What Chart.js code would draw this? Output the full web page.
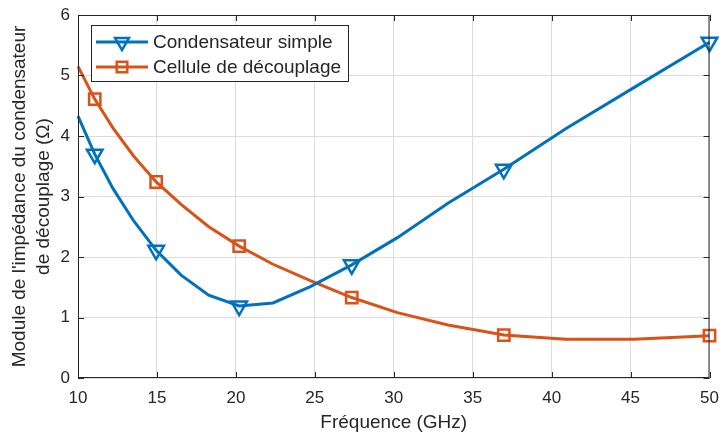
<!DOCTYPE html>
<html>
<head>
<meta charset="utf-8">
<script src="https://cdn.jsdelivr.net/npm/chart.js@4/dist/chart.umd.min.js"></script>
<style>
  html, body { margin: 0; padding: 0; background: #fff; }
  #wrap { width: 721px; height: 434px; }
</style>
</head>
<body>
<div id="wrap"><canvas id="chart"></canvas></div>
<script>
// values
var freq = [10, 11.06, 12.22, 13.52, 14.95, 16.53, 18.28, 20.21, 22.35, 24.72, 27.34, 30.23, 33.43, 36.97, 40.89, 45.21, 50];
var condSimple = [4.33, 3.70, 3.13, 2.60, 2.11, 1.70, 1.37, 1.19, 1.24, 1.51, 1.87, 2.32, 2.89, 3.45, 4.12, 4.80, 5.55];
var cellule = [5.15, 4.61, 4.13, 3.67, 3.24, 2.87, 2.50, 2.18, 1.88, 1.61, 1.33, 1.08, 0.875, 0.71, 0.64, 0.64, 0.70];
var markerIdx = [1, 4, 7, 10, 13, 16];
var xTicks = [10, 15, 20, 25, 30, 35, 40, 45, 50];
var yTicks = [0, 1, 2, 3, 4, 5, 6];

var FONT = "'Liberation Sans', Arial, Helvetica, sans-serif";
var INK = '#262626';

function pts(ys) {
  return freq.map(function (x, i) { return { x: x, y: ys[i] }; });
}
function markerRadius(r) {
  return function (ctx) { return markerIdx.indexOf(ctx.dataIndex) >= 0 ? r : 0; };
}

var boxAndLegend = {
  id: 'boxAndLegend',
  afterDraw: function (chart) {
    var ctx = chart.ctx, a = chart.chartArea;
    var xs = chart.scales.x, ys = chart.scales.y;
    ctx.save();
    ctx.strokeStyle = INK;
    ctx.lineWidth = 1;
    ctx.strokeRect(a.left + 0.5, a.top + 0.5, a.right - a.left - 1, a.bottom - a.top - 1);
    ctx.beginPath();
    xTicks.forEach(function (v) {
      var p = Math.round(xs.getPixelForValue(v)) + 0.5;
      ctx.moveTo(p, a.bottom); ctx.lineTo(p, a.bottom - 6);
      ctx.moveTo(p, a.top); ctx.lineTo(p, a.top + 6);
    });
    yTicks.forEach(function (v) {
      var p = Math.round(ys.getPixelForValue(v)) + 0.5;
      ctx.moveTo(a.left, p); ctx.lineTo(a.left + 6, p);
      ctx.moveTo(a.right, p); ctx.lineTo(a.right - 6, p);
    });
    ctx.stroke();

    // legend box, top left inside the axes
    var lx = 91, ly = 25, lw = 257, lh = 56;
    ctx.fillStyle = '#fff';
    ctx.fillRect(lx, ly, lw, lh);
    ctx.strokeRect(lx + 0.5, ly + 0.5, lw, lh);
    ctx.font = '19px ' + FONT;
    ctx.textBaseline = 'middle';
    chart.data.datasets.forEach(function (ds, i) {
      var cy = ly + 17 + i * 25;
      ctx.strokeStyle = ds.borderColor;
      ctx.lineWidth = 3;
      ctx.beginPath();
      ctx.moveTo(96, cy); ctx.lineTo(148, cy);
      ctx.stroke();
      ctx.lineWidth = 2.5;
      ctx.fillStyle = 'rgba(0,0,0,0)';
      Chart.helpers.drawPoint(ctx, {
        pointStyle: ds.pointStyle, radius: ds.legendRadius,
        rotation: ds.pointRotation || 0, borderWidth: 2.5
      }, 122, cy);
      ctx.fillStyle = INK;
      ctx.fillText(ds.label, 153, cy + 1);
    });
    ctx.restore();
  }
};

function noSidePadding(s) {
  s.paddingLeft = 0; s.paddingRight = 0; s.paddingTop = 0; s.paddingBottom = 0;
}

new Chart(document.getElementById('chart'), {
  type: 'line',
  data: {
    datasets: [
      {
        label: 'Condensateur simple',
        data: pts(condSimple),
        borderColor: '#0072BD',
        borderWidth: 3,
        pointStyle: 'triangle',
        pointRotation: 180,
        pointRadius: markerRadius(9),
        legendRadius: 8,
        pointBorderWidth: 2.5,
        pointBackgroundColor: 'rgba(0,0,0,0)',
        pointBorderColor: '#0072BD',
        tension: 0,
        clip: false
      },
      {
        label: 'Cellule de découplage',
        data: pts(cellule),
        borderColor: '#D95319',
        borderWidth: 3,
        pointStyle: 'rect',
        pointRadius: markerRadius(8),
        legendRadius: 7.5,
        pointBorderWidth: 2.5,
        pointBackgroundColor: 'rgba(0,0,0,0)',
        pointBorderColor: '#D95319',
        tension: 0,
        clip: false
      }
    ]
  },
  options: {
    responsive: true,
    maintainAspectRatio: false,
    animation: false,
    events: [],
    layout: { padding: { top: 15, right: 9, left: 0, bottom: 0 } },
    plugins: { legend: { display: false }, tooltip: { enabled: false } },
    scales: {
      x: {
        type: 'linear',
        min: 10, max: 50,
        afterBuildTicks: function (s) { s.ticks = xTicks.map(function (v) { return { value: v }; }); },
        afterFit: function (s) { s.height = 56; noSidePadding(s); },
        grid: { color: '#dcdcdc', drawTicks: false },
        border: { display: false },
        ticks: { color: INK, padding: 10, maxRotation: 0, font: { family: FONT, size: 17 } },
        title: {
          display: true, text: 'Fréquence (GHz)', color: INK,
          font: { family: FONT, size: 19, lineHeight: 1.2 }, padding: { top: 0, bottom: 0 }
        }
      },
      y: {
        min: 0, max: 6,
        afterBuildTicks: function (s) { s.ticks = yTicks.map(function (v) { return { value: v }; }); },
        afterFit: function (s) { s.width = 78; noSidePadding(s); },
        grid: { color: '#dcdcdc', drawTicks: false },
        border: { display: false },
        ticks: { color: INK, padding: 8, font: { family: FONT, size: 17 } },
        title: {
          display: true, text: ["Module de l'impédance du condensateur", 'de découplage (Ω)'], color: INK,
          font: { family: FONT, size: 19, lineHeight: 1.25 }, padding: { top: 8, bottom: 0 }
        }
      }
    }
  },
  plugins: [boxAndLegend]
});
</script>
</body>
</html>
